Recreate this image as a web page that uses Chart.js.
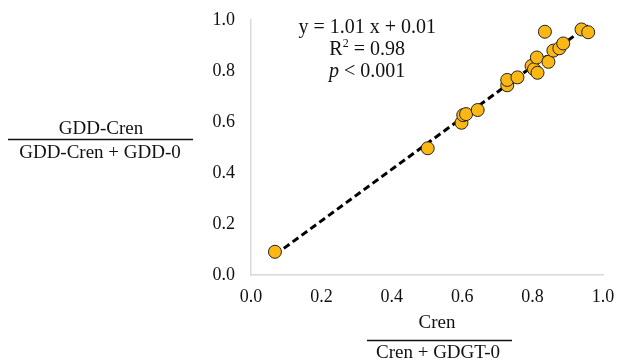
<!DOCTYPE html>
<html>
<head>
<meta charset="utf-8">
<script src="https://cdn.jsdelivr.net/npm/chart.js@4"></script>
<style>
  html, body { margin: 0; padding: 0; background: #fff; }
  #wrap { width: 620px; height: 363px; }
</style>
</head>
<body>
<div id="wrap"><canvas id="myChart" width="620" height="363"></canvas></div>
<script>
// values
var ratioCren = [0.068, 0.502, 0.598, 0.603, 0.611, 0.644, 0.728, 0.728, 0.757, 0.797,
                 0.804, 0.814, 0.812, 0.845, 0.835, 0.859, 0.876, 0.887, 0.939, 0.958];
var ratioGdd = [0.091, 0.497, 0.597, 0.627, 0.631, 0.647, 0.744, 0.765, 0.775, 0.820,
                0.807, 0.793, 0.853, 0.836, 0.954, 0.880, 0.889, 0.908, 0.963, 0.952];
var trendX = [0.068, 0.958];
var trendY = [0.079, 0.978];
var tickLabels = ['0.0', '0.2', '0.4', '0.6', '0.8', '1.0'];
var statLines = ['y = 1.01 x + 0.01', 'R2 = 0.98', 'p < 0.001'];

var serif = '"Liberation Serif", "Times New Roman", serif';

var points = ratioCren.map(function (x, i) { return { x: x, y: ratioGdd[i] }; });
var trend = trendX.map(function (x, i) { return { x: x, y: trendY[i] }; });

// draws the fraction-style axis titles and the equation box
var extras = {
  id: 'extras',
  afterDraw: function (chart) {
    var c = chart.ctx;
    var xs = chart.scales.x;
    c.save();
    c.fillStyle = '#111';
    c.strokeStyle = '#111';
    c.textAlign = 'center';
    c.textBaseline = 'middle';
    c.font = '19px ' + serif;

    // y title
    c.fillText('GDD-Cren', 101, 129);
    c.fillText('GDD-Cren + GDD-0', 100, 153);
    c.lineWidth = 1.5;
    c.beginPath(); c.moveTo(8, 139.5); c.lineTo(193, 139.5); c.stroke();

    // x title
    c.fillText('Cren', 437, 323);
    c.fillText('Cren + GDGT-0', 438, 353);
    c.beginPath(); c.moveTo(367, 340.5); c.lineTo(512, 340.5); c.stroke();

    // stats text
    var big = '20px ' + serif, small = '12px ' + serif;
    c.font = big;
    var cx = xs.getPixelForValue(0.33);
    var y0 = 28;
    c.fillText(statLines[0], cx, y0);
    // R² with superscript
    c.textAlign = 'left';
    var r = 'R', rest = ' = 0.98';
    var wR = c.measureText(r).width;
    c.font = small;
    var w2 = c.measureText('2').width;
    c.font = big;
    var wRest = c.measureText(rest).width;
    var sx = cx - (wR + w2 + wRest) / 2;
    c.fillText(r, sx, y0 + 22);
    c.font = small;
    c.fillText('2', sx + wR, y0 + 16);
    c.font = big;
    c.fillText(rest, sx + wR + w2, y0 + 22);
    // p < 0.001 with italic p
    c.font = 'italic ' + big;
    var wp = c.measureText('p').width;
    c.font = big;
    var wpr = c.measureText(' < 0.001').width;
    var px = cx - (wp + wpr) / 2;
    c.font = 'italic ' + big;
    c.fillText('p', px, y0 + 44);
    c.font = big;
    c.fillText(' < 0.001', px + wp, y0 + 44);
    c.restore();
  }
};

var ctx = document.getElementById('myChart').getContext('2d');

var myChart = new Chart(ctx, {
  type: 'scatter',
  data: {
    datasets: [
      {
        label: 'samples',
        data: points,
        order: 0,
        backgroundColor: '#fbb714',
        borderColor: '#222',
        borderWidth: 1,
        pointRadius: 6.5,
        pointHoverRadius: 6.5
      },
      {
        type: 'line',
        label: 'trend',
        data: trend,
        order: 1,
        borderColor: '#000',
        borderWidth: 3,
        borderDash: [7, 4],
        pointRadius: 0,
        fill: false
      }
    ]
  },
  options: {
    responsive: false,
    animation: false,
    events: [],
    layout: { padding: { top: 20, right: 17, left: 0, bottom: 0 } },
    plugins: { legend: { display: false }, tooltip: { enabled: false } },
    scales: {
      x: {
        type: 'linear',
        min: 0, max: 1,
        afterFit: function (s) {
          s.height = 88;
          s.paddingLeft = 0; s.paddingRight = 0;
        },
        grid: { color: 'transparent', drawTicks: false },
        border: { color: '#d9d9d9', width: 1.5 },
        ticks: {
          stepSize: 0.2, padding: 11, color: '#111',
          font: { family: serif, size: 18 },
          callback: function (v, i) { return tickLabels[i]; }
        }
      },
      y: {
        type: 'linear',
        min: 0, max: 1,
        afterFit: function (s) {
          s.width = 251;
          s.paddingTop = 0; s.paddingBottom = 0;
        },
        grid: { color: 'transparent', drawTicks: false },
        border: { color: '#d9d9d9', width: 1.5 },
        ticks: {
          stepSize: 0.2, padding: 16, color: '#111',
          font: { family: serif, size: 18 },
          callback: function (v, i) { return tickLabels[i]; }
        }
      }
    }
  },
  plugins: [extras]
});
</script>
</body>
</html>
